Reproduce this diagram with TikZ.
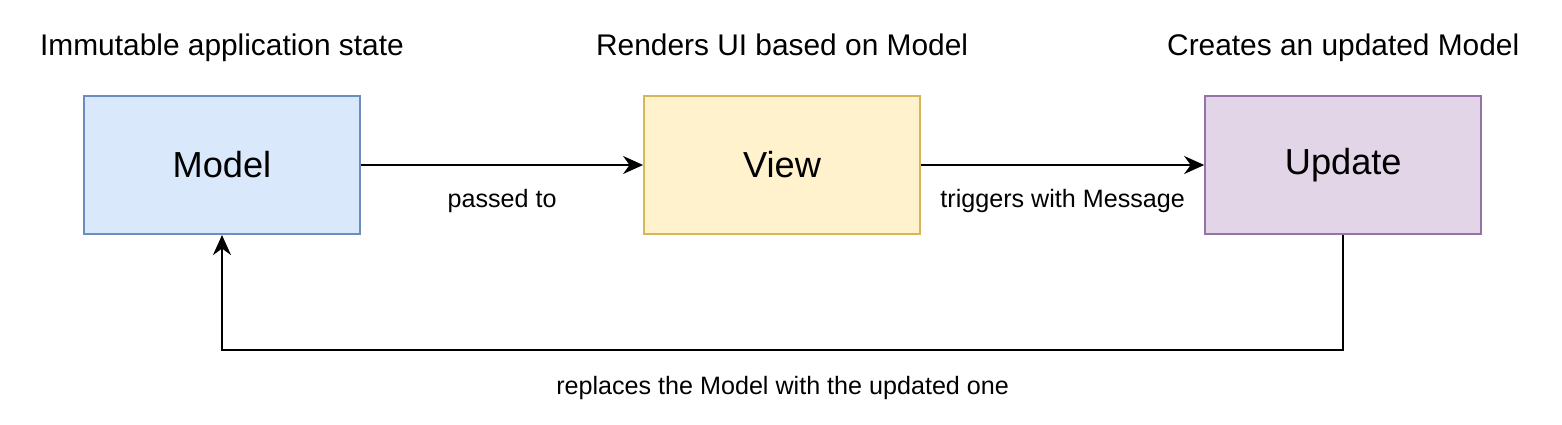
\documentclass[tikz,border=0pt]{standalone}
\usepackage{fontspec}
\setmainfont{Liberation Sans}
\usetikzlibrary{positioning,arrows.meta}

\definecolor{modelfill}{HTML}{DAE8FC}\definecolor{modeldraw}{HTML}{6C8EBF}
\definecolor{viewfill}{HTML}{FFF2CC}\definecolor{viewdraw}{HTML}{D6B656}
\definecolor{updfill}{HTML}{E1D5E7}\definecolor{upddraw}{HTML}{9673A6}

\begin{document}
\begin{tikzpicture}[blk/.style={draw,line width=0.6pt,minimum width=2.76cm,minimum height=1.38cm,inner sep=0pt,font=\fontsize{10.3}{12}\selectfont},
    ttl/.style={inner sep=0pt,text depth=0pt,font=\fontsize{8.5}{10}\selectfont},
    lbl/.style={font=\fontsize{7.15}{9}\selectfont},
    conn/.style={-{Stealth[length=2mm,width=1.8mm]},line width=0.55pt}]
    \useasboundingbox (0,0) rectangle (15.62,-4.24);
    \node[blk,fill=modelfill,draw=modeldraw] (model) at (2.22,-1.65) {Model};
    \node[blk,fill=viewfill,draw=viewdraw,right=2.82cm of model] (view) {View};
    \node[blk,fill=updfill,draw=upddraw,right=2.83cm of view] (update) {Update};
    \node[ttl,above=0.39cm of model] (tmodel) {Immutable application state};
    \node[ttl,above=0.39cm of view] (tview) {Renders UI based on Model};
    \node[ttl,above=0.39cm of update] (tupdate) {Creates an updated Model};
    \draw[conn](model)--node[lbl,below=0.12cm]{passed to}(view);
    \draw[conn](view)--node[lbl,below=0.12cm]{triggers with Message}(update);
    \coordinate[below=1.15cm of update.south] (c1);
    \coordinate[below=1.15cm of model.south] (c2);
    \draw[conn](update.south)--(c1)--node[lbl,below=0.14cm]{replaces the Model with the updated one}(c2)--(model.south);
  \end{tikzpicture}
\end{document}
